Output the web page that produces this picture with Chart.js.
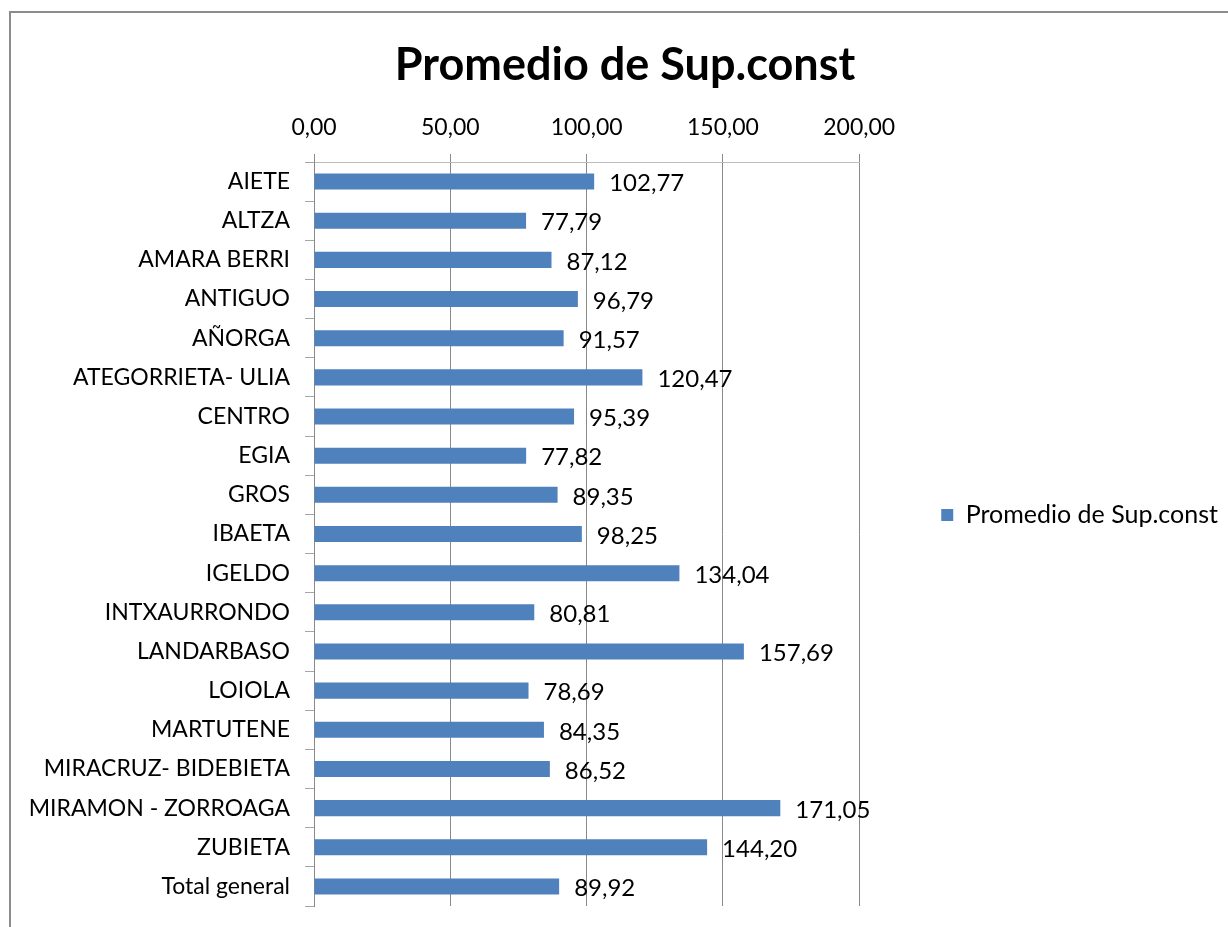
<!DOCTYPE html>
<html>
<head>
<meta charset="utf-8">
<script src="https://cdn.jsdelivr.net/npm/chart.js@4/dist/chart.umd.min.js"></script>
<style>
  html, body { margin: 0; padding: 0; background: #ffffff; }
  #wrap { position: relative; width: 1228px; height: 927px; }
  canvas { display: block; }
</style>
</head>
<body>
<div id="wrap"><canvas id="c" width="1228" height="927"></canvas></div>
<script>
const categories = [
  "AIETE", "ALTZA", "AMARA BERRI", "ANTIGUO", "AÑORGA", "ATEGORRIETA- ULIA",
  "CENTRO", "EGIA", "GROS", "IBAETA", "IGELDO", "INTXAURRONDO", "LANDARBASO",
  "LOIOLA", "MARTUTENE", "MIRACRUZ- BIDEBIETA", "MIRAMON - ZORROAGA", "ZUBIETA",
  "Total general"
];
const promedioValues = [
  102.77, 77.79, 87.12, 96.79, 91.57, 120.47,
  95.39, 77.82, 89.35, 98.25, 134.04, 80.81, 157.69,
  78.69, 84.35, 86.52, 171.05, 144.20,
  89.92
];
const xTicks = [0, 50, 100, 150, 200];
const seriesName = "Promedio de Sup.const";
const chartTitle = "Promedio de Sup.const";

const FONT = "Lato, 'Open Sans', sans-serif";
const fmt = v => Number(v).toFixed(2).replace('.', ',');

const frame = {
  id: 'frame',
  beforeDraw(chart) {
    const ctx = chart.ctx;
    ctx.save();
    ctx.fillStyle = '#ffffff';
    ctx.fillRect(0, 0, chart.width, chart.height);
    ctx.strokeStyle = '#8c8c8c';
    ctx.lineWidth = 2;
    ctx.beginPath();
    ctx.moveTo(10, chart.height);
    ctx.lineTo(10, 12);
    ctx.lineTo(chart.width, 12);
    ctx.stroke();
    ctx.restore();
  }
};

const valueLabels = {
  id: 'valueLabels',
  afterDatasetsDraw(chart) {
    const ctx = chart.ctx;
    const meta = chart.getDatasetMeta(0);
    const data = chart.data.datasets[0].data;
    ctx.save();
    ctx.font = "24px " + FONT;
    ctx.fillStyle = '#000000';
    ctx.textAlign = 'left';
    ctx.textBaseline = 'middle';
    meta.data.forEach((bar, i) => {
      ctx.fillText(fmt(data[i]), bar.x + 15, bar.y + 2);
    });
    ctx.restore();
  }
};

new Chart(document.getElementById('c'), {
  type: 'bar',
  data: {
    labels: categories,
    datasets: [{
      label: seriesName,
      data: promedioValues,
      backgroundColor: '#4f81bd',
      borderWidth: 0,
      barPercentage: 0.41,
      categoryPercentage: 1.0
    }]
  },
  options: {
    indexAxis: 'y',
    responsive: false,
    animation: false,
    layout: { padding: { left: 22, right: 0, top: 0, bottom: 21 } },
    plugins: {
      title: {
        display: true,
        text: chartTitle,
        color: '#000000',
        font: { family: FONT, size: 45, weight: 'bold', lineHeight: 1.2 },
        padding: { top: 38, bottom: 0 }
      },
      legend: {
        position: 'right',
        maxWidth: 500,
        title: { display: true, text: ' ', padding: { top: 112, bottom: 0 }, font: { size: 10 } },
        labels: {
          boxWidth: 12,
          boxHeight: 12,
          padding: 82,
          color: '#000000',
          font: { family: FONT, size: 25 }
        }
      },
      tooltip: { enabled: false }
    },
    scales: {
      x: {
        position: 'top',
        min: 0,
        max: 200,
        afterBuildTicks(scale) { scale.ticks = xTicks.map(v => ({ value: v })); },
        afterFit(scale) { scale.height = 70; scale.paddingLeft = 0; scale.paddingRight = 0; },
        ticks: {
          padding: 13,
          color: '#000000',
          font: { family: FONT, size: 23 },
          callback: v => fmt(v)
        },
        grid: { color: '#898989', lineWidth: 1, tickLength: 8, drawTicks: true },
        border: { display: true, color: '#bdbdbd', width: 1 }
      },
      y: {
        afterFit(scale) { scale.width = 292; scale.paddingTop = 0; scale.paddingBottom = 0; },
        ticks: {
          padding: 15,
          color: '#000000',
          font: { family: FONT, size: 23 },
          autoSkip: false
        },
        grid: { drawOnChartArea: false, drawTicks: true, tickLength: 9, color: '#a6a6a6', offset: true },
        border: { display: true, color: '#898989', width: 1 }
      }
    }
  },
  plugins: [frame, valueLabels]
});
</script>
</body>
</html>
